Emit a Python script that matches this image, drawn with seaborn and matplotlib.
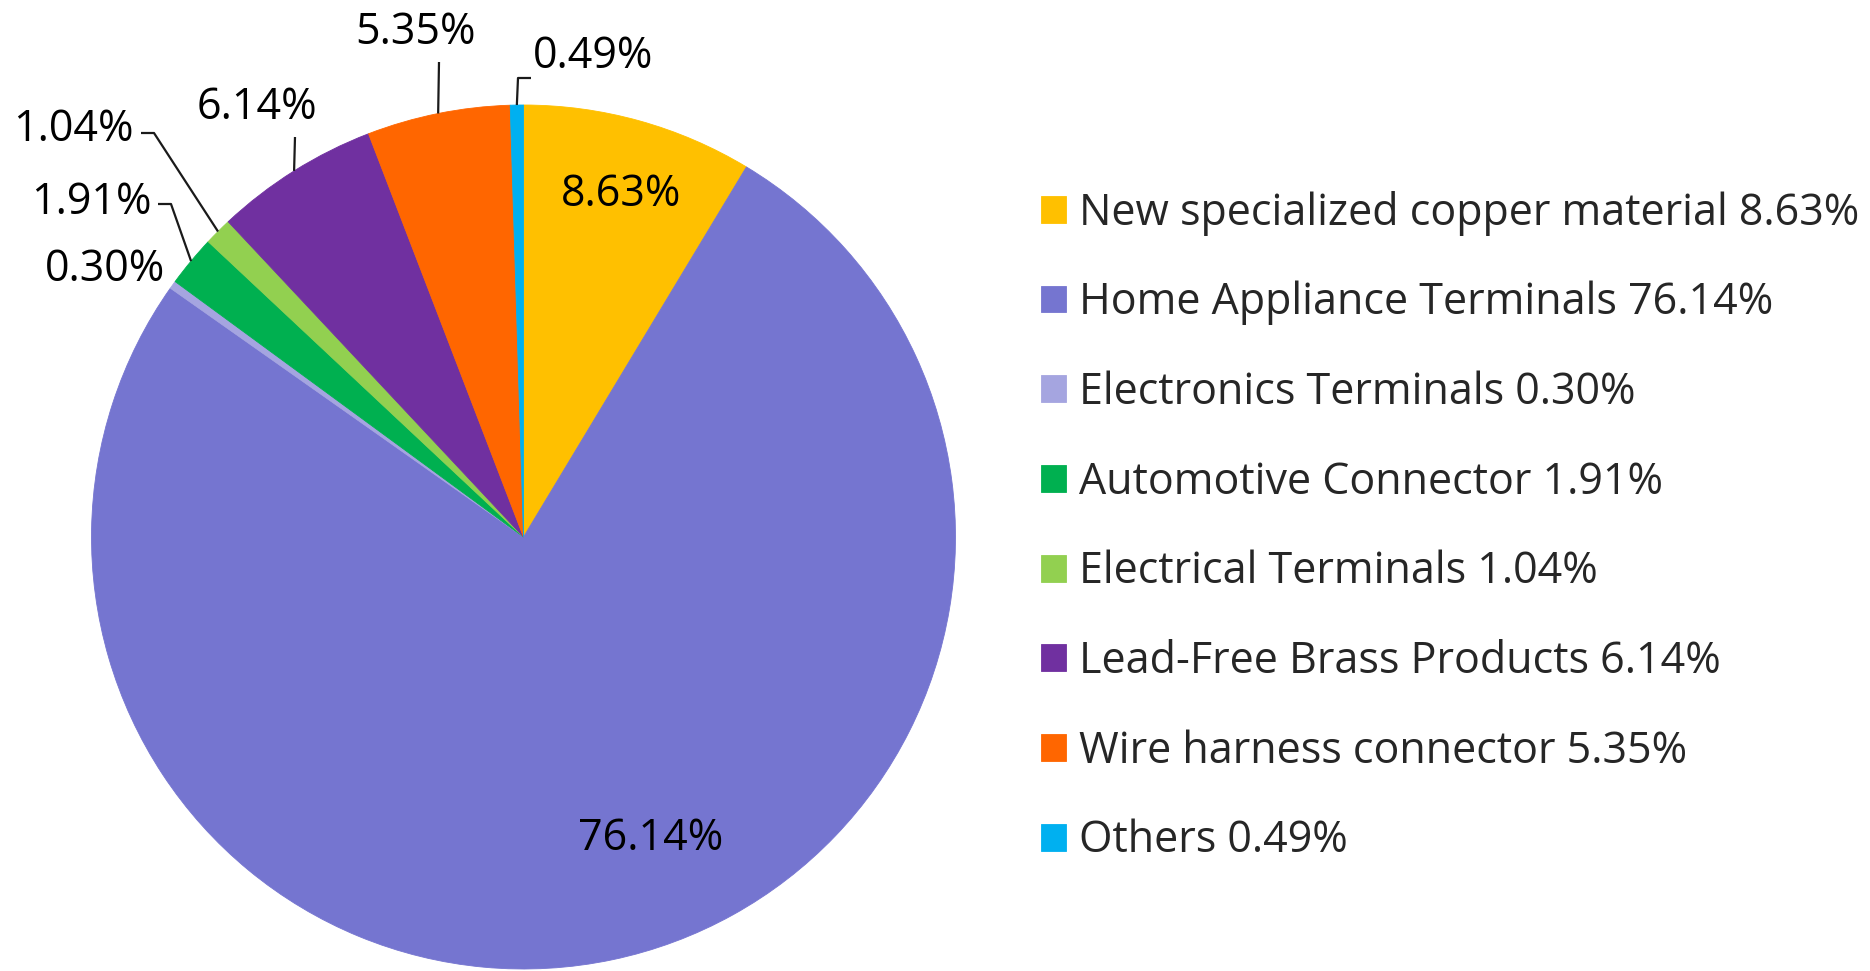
import numpy as np
import matplotlib
matplotlib.use("Agg")
import matplotlib.pyplot as plt
import seaborn as sns

# data
categories = [
    "New specialized copper material",
    "Home Appliance Terminals",
    "Electronics Terminals",
    "Automotive Connector",
    "Electrical Terminals",
    "Lead-Free Brass Products",
    "Wire harness connector",
    "Others",
]
shares = [8.63, 76.14, 0.30, 1.91, 1.04, 6.14, 5.35, 0.49]
colors = ["#FFC000", "#7575D0", "#A5A5E0", "#00B050", "#92D050", "#7030A0", "#FF6600", "#00B0F0"]

# layout (pixel coords, y measured from top)
W, H = 1870, 971
CENTER = (523.5, 537)
RADIUS = 432
# label anchor, ha, optional elbow points for the leader line
label_layout = [
    ((621, 195), "center", None),
    ((651, 839), "center", None),
    ((165, 270), "right", None),
    ((152, 203), "right", [(171, 204), (158, 204)]),
    ((134, 130), "right", [(154, 133), (141, 133)]),
    ((257, 108), "center", [(295, 137)]),
    ((415, 33), "center", [(439, 62)]),
    ((533, 57), "left", [(518, 78), (531, 78)]),
]

sns.set_theme(style="white")
plt.rcParams["font.family"] = ["Open Sans", "DejaVu Sans"]

fig = plt.figure(figsize=(W / 100, H / 100), dpi=100)
ax = fig.add_axes([0, 0, 1, 1])

cx, cy = CENTER[0], H - CENTER[1]
wedges, _ = ax.pie(
    shares,
    colors=colors,
    startangle=90,
    counterclock=False,
    center=(cx, cy),
    radius=RADIUS,
)
for w in wedges:
    w.set_edgecolor(w.get_facecolor())
    w.set_linewidth(0.6)
ax.set_xlim(0, W)
ax.set_ylim(0, H)
ax.set_aspect("equal")
ax.axis("off")

fs = 31
for w, val, (pos, ha, elbow) in zip(wedges, shares, label_layout):
    tx, ty = pos[0], H - pos[1]
    ax.text(tx, ty, f"{val:.2f}%", ha=ha, va="center", fontsize=fs, color="black")
    if elbow:
        mid = np.deg2rad((w.theta1 + w.theta2) / 2)
        ex = cx + RADIUS * np.cos(mid)
        ey = cy + RADIUS * np.sin(mid)
        xs = [ex] + [p[0] for p in elbow]
        ys = [ey] + [H - p[1] for p in elbow]
        ax.plot(xs, ys, color="#1a1a1a", lw=1.6, solid_capstyle="butt")

legend_labels = [f"{c} {v:.2f}%" for c, v in zip(categories, shares)]
leg = ax.legend(
    wedges,
    legend_labels,
    loc="center left",
    bbox_to_anchor=(1041 / W, 1 - 527 / H),
    frameon=False,
    fontsize=fs,
    handlelength=0.58,
    handleheight=0.58,
    handletextpad=0.3,
    labelspacing=1.05,
    borderpad=0,
    borderaxespad=0,
)

fig.savefig("out.png", dpi=100)
